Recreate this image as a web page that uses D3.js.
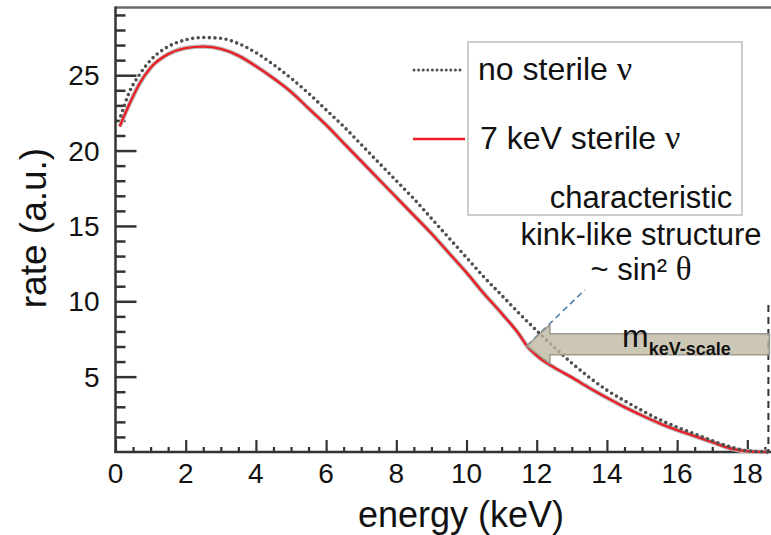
<!DOCTYPE html>
<html>
<head>
<meta charset="utf-8">
<script src="https://cdn.jsdelivr.net/npm/d3@7"></script>
<style>
  html, body { margin: 0; padding: 0; background: #fff; }
  svg { display: block; }
  text { font-family: "Liberation Sans", Arial, sans-serif; fill: #111; }
</style>
</head>
<body>
<svg id="chart" width="771" height="535"></svg>
<script>
// Beta spectrum near the tritium endpoint: energy (keV) vs. rate (a.u.)
const energyNoSterile = [0.15, 0.4, 0.7, 1.0, 1.5, 2.0, 2.5, 3.0, 3.5, 4.0, 4.5, 5.0, 5.5, 6.0, 6.5, 7.0, 7.5, 8.0, 8.5, 9.0, 9.5, 10.0, 10.5, 11.0, 11.5, 12.0, 12.5, 13.0, 13.5, 14.0, 14.5, 15.0, 15.5, 16.0, 16.5, 17.0, 17.5, 18.0, 18.6];
const rateNoSterile   = [22.3, 23.9, 25.1, 26.0, 26.9, 27.35, 27.5, 27.45, 27.1, 26.5, 25.7, 24.8, 23.8, 22.7, 21.6, 20.4, 19.2, 18.0, 16.8, 15.5, 14.2, 12.9, 11.6, 10.4, 9.2, 8.05, 6.95, 5.9, 4.95, 4.1, 3.4, 2.75, 2.15, 1.65, 1.2, 0.75, 0.35, 0.08, 0];

const energySterile = [0.12, 0.4, 0.7, 1.0, 1.5, 2.0, 2.5, 3.0, 3.5, 4.0, 4.5, 5.0, 5.5, 6.0, 6.5, 7.0, 7.5, 8.0, 8.5, 9.0, 9.5, 10.0, 10.5, 11.0, 11.5, 11.72, 12.0, 12.5, 13.0, 13.5, 14.0, 14.5, 15.0, 15.5, 16.0, 16.5, 17.0, 17.5, 18.0, 18.6];
const rateSterile   = [21.6, 23.1, 24.5, 25.5, 26.4, 26.8, 26.9, 26.75, 26.3, 25.6, 24.8, 23.9, 22.8, 21.7, 20.5, 19.3, 18.1, 16.9, 15.7, 14.5, 13.2, 11.9, 10.5, 9.2, 7.8, 7.05, 6.4, 5.6, 4.95, 4.25, 3.6, 2.98, 2.42, 1.9, 1.45, 1.05, 0.65, 0.25, 0.05, 0];

const xMajorTicks = [0, 2, 4, 6, 8, 10, 12, 14, 16, 18];
const yMajorTicks = [5, 10, 15, 20, 25];

const seriesLabels = ["no sterile ", "7 keV sterile "];
const annotationLines = ["characteristic", "kink-like structure"];
const kinkEnergy = 11.72;   // E0 - m_s
const endpointEnergy = 18.6;

const svg = d3.select("#chart");

const x = d3.scaleLinear().domain([0, 18.7]).range([115.5, 771.9]);
const y = d3.scaleLinear().domain([0, 29.5]).range([452, 7.4]);

// --- top frame line
svg.append("line")
  .attr("x1", x(0)).attr("x2", 771).attr("y1", y(29.5)).attr("y2", y(29.5))
  .attr("stroke", "#6a6a6a").attr("stroke-width", 2.5);

// --- x axis (ticks point inward)
const xMinor = d3.range(0, 18.51, 0.5).filter(v => Math.abs(v % 2) > 1e-6);
const xAxis = svg.append("g").attr("transform", `translate(0,${y(0)})`);
xAxis.call(d3.axisTop(x).tickValues(xMinor).tickSize(5).tickFormat(""))
  .call(g => g.select(".domain").remove());
xAxis.append("g").call(d3.axisTop(x).tickValues(xMajorTicks).tickSize(12).tickFormat(""))
  .call(g => g.select(".domain").remove());
xAxis.selectAll(".tick line").attr("stroke", "#333").attr("stroke-width", 2.2);
xAxis.append("line").attr("x1", x(0) - 1).attr("x2", 771).attr("y1", 0).attr("y2", 0)
  .attr("stroke", "#333").attr("stroke-width", 2.5);
xAxis.selectAll(".xlab").data(xMajorTicks).enter().append("text")
  .attr("class", "xlab")
  .attr("x", d => x(d)).attr("y", 31)
  .attr("text-anchor", "middle").attr("font-size", 28)
  .text(d => d);

// --- y axis (ticks point inward)
const yMinor = d3.range(1, 29.01, 1).filter(v => v % 5 !== 0);
const yAxis = svg.append("g").attr("transform", `translate(${x(0)},0)`);
yAxis.call(d3.axisRight(y).tickValues(yMinor).tickSize(10).tickFormat(""))
  .call(g => g.select(".domain").remove());
yAxis.append("g").call(d3.axisRight(y).tickValues(yMajorTicks).tickSize(21).tickFormat(""))
  .call(g => g.select(".domain").remove());
yAxis.selectAll(".tick line").attr("stroke", "#333").attr("stroke-width", 2.5);
yAxis.append("line").attr("x1", 0).attr("x2", 0).attr("y1", y(29.5) - 1).attr("y2", y(0) + 1)
  .attr("stroke", "#333").attr("stroke-width", 2.5);
yAxis.selectAll(".ylab").data(yMajorTicks).enter().append("text")
  .attr("class", "ylab")
  .attr("x", -16).attr("y", d => y(d) + 10)
  .attr("text-anchor", "end").attr("font-size", 28)
  .text(d => d);

// --- axis titles
svg.append("text")
  .attr("x", 461).attr("y", 527)
  .attr("text-anchor", "middle").attr("font-size", 36)
  .text("energy (keV)");
svg.append("text")
  .attr("transform", "translate(46,228) rotate(-90)")
  .attr("text-anchor", "middle").attr("font-size", 37)
  .text("rate (a.u.)");

// --- legend box
svg.append("rect")
  .attr("x", 468).attr("y", 42).attr("width", 274).attr("height", 173)
  .attr("fill", "none").attr("stroke", "#bdbdbd").attr("stroke-width", 1.5);

// --- spectra
const line = d3.line().x(d => x(d[0])).y(d => y(d[1])).curve(d3.curveMonotoneX);
const noSterile = d3.zip(energyNoSterile, rateNoSterile);
const sterile = d3.zip(energySterile, rateSterile);

const dotStyle = sel => sel
  .attr("stroke", "#505050").attr("stroke-width", 3.6)
  .attr("stroke-linecap", "round").attr("stroke-dasharray", "0 5.6");

svg.append("path").datum(sterile).attr("d", line)
  .attr("fill", "none").attr("stroke", "#bbb").attr("stroke-width", 4.5)
  .attr("stroke-linejoin", "round");
svg.append("path").datum(sterile).attr("d", line)
  .attr("fill", "none").attr("stroke", "#ec1f27").attr("stroke-width", 2.4)
  .attr("stroke-linejoin", "round");
svg.append("path").datum(noSterile).attr("d", line)
  .attr("fill", "none").call(dotStyle);

// --- legend entries
const legendY = [70, 139];
svg.append("line").attr("x1", 414).attr("x2", 462).attr("y1", legendY[0]).attr("y2", legendY[0])
  .call(dotStyle).attr("stroke-width", 3).attr("stroke-dasharray", "0 4.6");
svg.append("line").attr("x1", 413).attr("x2", 465).attr("y1", legendY[1]).attr("y2", legendY[1])
  .attr("stroke", "#ec1f27").attr("stroke-width", 2.4);
seriesLabels.forEach((lab, i) => {
  const t = svg.append("text").attr("x", i === 0 ? 478 : 480).attr("y", legendY[i] + 10)
    .attr("font-size", 32);
  t.append("tspan").text(lab);
  t.append("tspan").attr("font-family", "'Liberation Serif', serif").attr("font-size", 34).text("ν");
});

// --- endpoint marker
svg.append("line")
  .attr("x1", x(endpointEnergy)).attr("x2", x(endpointEnergy))
  .attr("y1", 305).attr("y2", y(0))
  .attr("stroke", "#333").attr("stroke-width", 2).attr("stroke-dasharray", "7 5");

// --- kink annotation
const kx = x(kinkEnergy), ky = y(rateSterile[energySterile.indexOf(kinkEnergy)]);
svg.append("line")
  .attr("x1", kx).attr("y1", ky).attr("x2", kx + 58).attr("y2", ky - 56)
  .attr("stroke", "#4d7eaa").attr("stroke-width", 1.6).attr("stroke-dasharray", "6 4");

// arrow from the endpoint back to the kink: m_keV-scale
const xEnd = x(endpointEnergy) + 1;
const arrow = d3.path();
arrow.moveTo(kx, ky);
arrow.lineTo(kx + 23, ky - 21);
arrow.lineTo(kx + 23, ky - 12);
arrow.lineTo(xEnd, ky - 12);
arrow.lineTo(xEnd, ky + 9);
arrow.lineTo(kx + 23, ky + 9);
arrow.lineTo(kx + 23, ky + 18);
arrow.closePath();
svg.append("path").attr("d", arrow.toString())
  .attr("fill", "rgba(190,183,160,0.78)").attr("stroke", "#9c9a8e").attr("stroke-width", 1.5);

const mt = svg.append("text").attr("x", 622).attr("y", ky + 1).attr("font-size", 32);
mt.append("tspan").text("m");
mt.append("tspan").attr("font-size", 18).attr("font-weight", "bold").attr("dy", 8).text("keV-scale");

annotationLines.forEach((s, i) => {
  svg.append("text").attr("x", 641).attr("y", 208 + i * 37)
    .attr("text-anchor", "middle").attr("font-size", 31).text(s);
});
const st = svg.append("text").attr("x", 641).attr("y", 280)
  .attr("text-anchor", "middle").attr("font-size", 31);
st.append("tspan").text("~ sin² ");
st.append("tspan").attr("font-family", "'Liberation Serif', serif").attr("font-size", 33).text("θ");
</script>
</body>
</html>
